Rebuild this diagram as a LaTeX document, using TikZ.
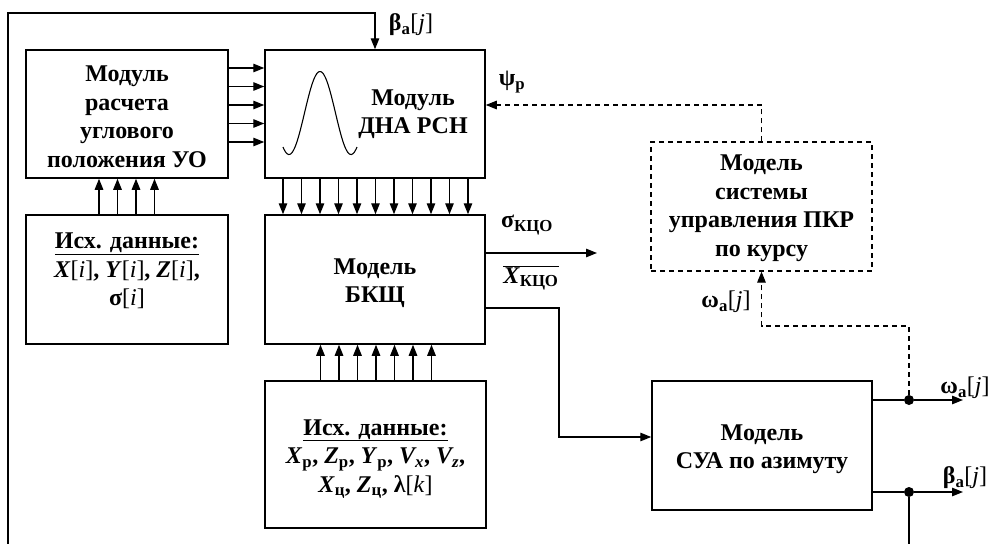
\documentclass[tikz,border=0pt]{standalone}
\usepackage{fontspec}
\setmainfont{Liberation Serif}
\usetikzlibrary{arrows.meta,calc}
\newcommand\dfont{\fontsize{24}{28.5}\selectfont\bfseries}
\newcommand\idx[1]{\textnormal{[\textit{#1}]}}
\begin{document}
\begin{tikzpicture}[x=1pt,y=-1pt,
  box/.style={draw,line width=1.5pt,inner sep=0pt,align=center,font=\dfont},
  txt/.style={inner sep=0pt,align=center,font=\dfont},
  arr/.style={line width=1.3pt,-{Triangle[length=11pt,width=8.5pt]}},
  ln/.style={line width=1.3pt},
  dsh/.style={dash pattern=on 5pt off 4pt},
  dot/.style={circle,fill,inner sep=0pt,minimum size=10pt}]
\useasboundingbox (0,0) rectangle (989,544);
% boxes
\node[box,minimum width=202pt,minimum height=128pt] (A) at (127,114) {};
\node[txt] (At) at (127,117) {Модуль\\расчета\\углового\\положения УО};
\node[box,minimum width=220pt,minimum height=128pt] (B) at (375,114) {};
\node[txt] (Bt) at (413,114) {Модуль\\ДНА РСН};
\node[box,minimum width=202pt,minimum height=129pt] (C) at (127,279.5) {};
\node[txt] (Ct) at (127,271) {\underline{Исх. данные:}\\\textit{X}\idx{i}, \textit{Y}\idx{i}, \textit{Z}\idx{i},\\σ\idx{i}};
\node[box,minimum width=220pt,minimum height=129pt] (D) at (375,279.5) {};
\node[txt] (Dt) at (375,283) {Модель\\БКЩ};
\node[box,minimum width=221pt,minimum height=147pt] (E) at (375.5,454.5) {};
\node[txt] (Et) at (375.5,459) {\underline{Исх. данные:}\\\textit{X}\textsubscript{р}, \textit{Z}\textsubscript{р}, \textit{Y}\textsubscript{р}, \textit{V\textsubscript{x}}, \textit{V\textsubscript{z}},\\\textit{X}\textsubscript{ц}, \textit{Z}\textsubscript{ц}, λ\idx{k}};
\node[box,minimum width=220pt,minimum height=129pt] (F) at (762,445.5) {};
\node[txt] (Ft) at (762,449) {Модель\\СУА по азимуту};
\node[box,dsh,line width=1.2pt,minimum width=221pt,minimum height=129pt] (G) at (761.5,206.5) {};
\node[txt] (Gt) at (761.5,208) {Модель\\системы\\управления ПКР\\по курсу};
% sine in B
\draw[line width=1.1pt] plot[domain=283:357,samples=80,smooth] (\x,{113-41.5*cos(360*(\x-320)/62)});
% labels
\node[txt] (lb1) at (411,25) {β\textsubscript{а}\idx{j}};
\node[txt] (lpsi) at (512,82) {ψ\textsubscript{р}};
\node[txt] (lsig) at (527,225) {σ\textsubscript{КЦО}};
\node[txt] (lx) at (531,278) {$\overline{\hbox{\dfont\textit{X}\textsubscript{КЦО}}}$};
\node[txt] (lw1) at (726,302) {ω\textsubscript{а}\idx{j}};
\node[txt] (lw2) at (965,388) {ω\textsubscript{а}\idx{j}};
\node[txt] (lb2) at (965,478) {β\textsubscript{а}\idx{j}};
% coordinates
\coordinate (botL) at (8,544);
\coordinate (botR) at (909,544);
\coordinate (sigEnd) at (597,253);
\coordinate (wEnd) at (963,400);
\coordinate (bEnd) at (963,492);
\node[dot] (dw) at (909,400) {};
\node[dot] (db) at (909,492) {};
% connectors
\draw[arr] (botL) |- (B.north |- 0,13) -- (B.north);
\foreach \y in {68,86.5,105,123.5,142} \draw[arr] (A.east |- 0,\y) -- (B.west |- 0,\y);
\foreach \x in {99,117.5,136,154.5} \draw[arr] (C.north -| \x,0) -- (A.south -| \x,0);
\foreach \x in {283,301.5,320,338.5,357,375.5,394,412.5,431,449.5,468} \draw[arr] (B.south -| \x,0) -- (D.north -| \x,0);
\foreach \x in {320.5,339,357.5,376,394.5,413,431.5} \draw[arr] (E.north -| \x,0) -- (D.south -| \x,0);
\draw[arr] (D.east |- 0,253) -- (sigEnd);
\draw[arr] (D.east |- 0,308) -- (559,308) -- (559,437) -- (F.west |- 0,437);
\draw[ln] (F.east |- 0,400) -- (dw);
\draw[arr] (dw) -- (wEnd);
\draw[ln] (F.east |- 0,492) -- (db);
\draw[arr] (db) -- (bEnd);
\draw[ln] (db) -- (botR);
\draw[arr,dsh,line width=1.2pt] (dw) -- (909,326) -| (G.south);
\draw[arr,dsh,line width=1.2pt] (G.north) |- (B.east |- 0,105);
\end{tikzpicture}
\end{document}
